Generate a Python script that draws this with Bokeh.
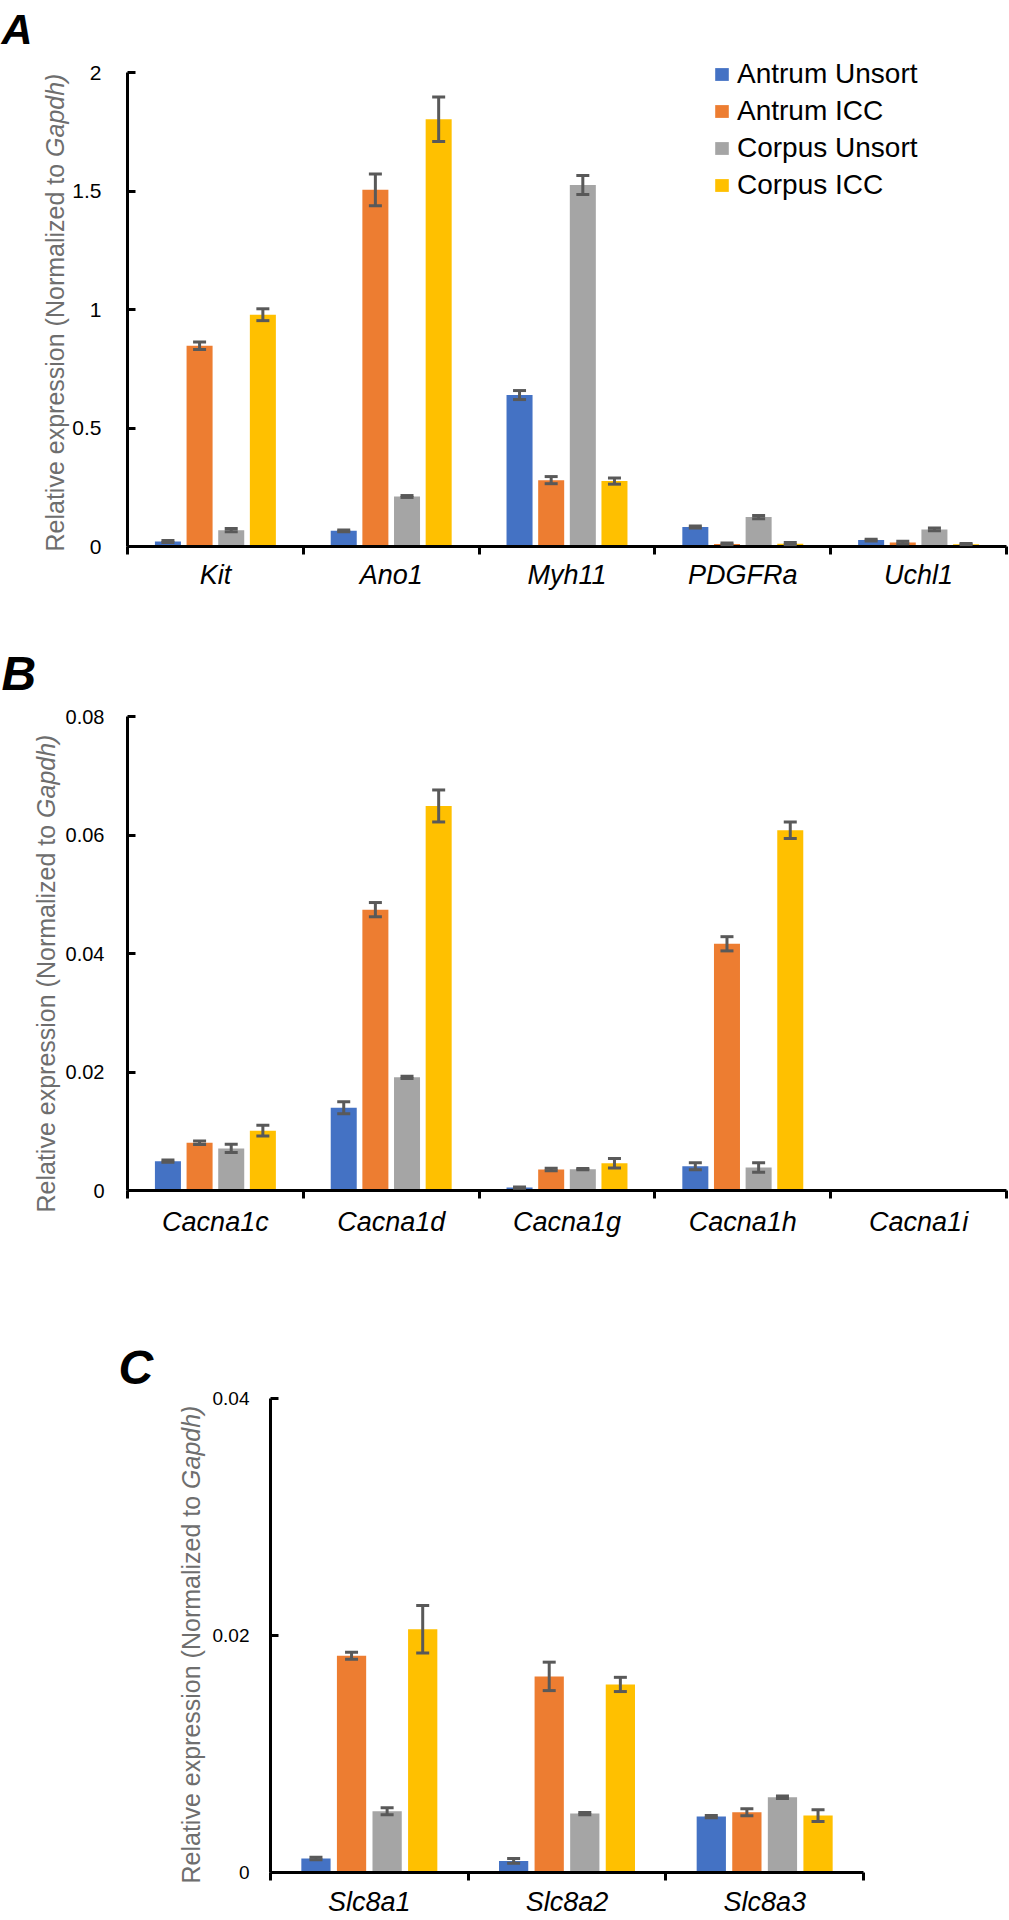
from math import pi
from bokeh.plotting import figure
from bokeh.models import (Range1d, FixedTicker, Whisker, TeeHead, ColumnDataSource,
                          Label, Legend, LegendItem)
from bokeh.layouts import column
from bokeh.embed import file_html
from bokeh.resources import INLINE

# ---------------- data ----------------
series_names = ["Antrum Unsort", "Antrum ICC", "Corpus Unsort", "Corpus ICC"]
series_colors = ["#4472C4", "#ED7D31", "#A5A5A5", "#FFC000"]

# Panel A
genes_a = ["Kit", "Ano1", "Myh11", "PDGFRa", "Uchl1"]
a_antrum_unsort = [0.021, 0.066, 0.639, 0.082, 0.027]
a_antrum_icc = [0.847, 1.505, 0.280, 0.011, 0.017]
a_corpus_unsort = [0.069, 0.211, 1.525, 0.124, 0.072]
a_corpus_icc = [0.978, 1.803, 0.276, 0.012, 0.010]
a_antrum_unsort_err = [0.004, 0.004, 0.019, 0.004, 0.004]
a_antrum_icc_err = [0.016, 0.067, 0.015, 0.004, 0.005]
a_corpus_unsort_err = [0.007, 0.004, 0.040, 0.007, 0.006]
a_corpus_icc_err = [0.025, 0.094, 0.013, 0.005, 0.003]
a_yticks = [0, 0.5, 1, 1.5, 2]
a_ytick_labels = ["0", "0.5", "1", "1.5", "2"]

# Panel B
genes_b = ["Cacna1c", "Cacna1d", "Cacna1g", "Cacna1h", "Cacna1i"]
b_antrum_unsort = [0.00495, 0.01396, 0.0005, 0.0041, 0.0]
b_antrum_icc = [0.00805, 0.0474, 0.00354, 0.04164, 0.0]
b_corpus_unsort = [0.0071, 0.0191, 0.0036, 0.0039, 0.0]
b_corpus_icc = [0.0101, 0.0649, 0.0046, 0.0608, 0.0]
b_antrum_unsort_err = [0.0002, 0.0010, 0.0001, 0.0006, 0.0]
b_antrum_icc_err = [0.0003, 0.0012, 0.0002, 0.0012, 0.0]
b_corpus_unsort_err = [0.0007, 0.0002, 0.0001, 0.0008, 0.0]
b_corpus_icc_err = [0.0009, 0.0027, 0.0008, 0.0014, 0.0]
b_yticks = [0, 0.02, 0.04, 0.06, 0.08]
b_ytick_labels = ["0", "0.02", "0.04", "0.06", "0.08"]

# Panel C
genes_c = ["Slc8a1", "Slc8a2", "Slc8a3"]
c_antrum_unsort = [0.00118, 0.00098, 0.00472]
c_antrum_icc = [0.01829, 0.01655, 0.00508]
c_corpus_unsort = [0.00517, 0.00497, 0.00635]
c_corpus_icc = [0.02053, 0.01587, 0.00480]
c_antrum_unsort_err = [0.0001, 0.0002, 0.0001]
c_antrum_icc_err = [0.0003, 0.0012, 0.0003]
c_corpus_unsort_err = [0.0003, 0.0001, 0.0001]
c_corpus_icc_err = [0.0020, 0.0006, 0.0005]
c_yticks = [0, 0.02, 0.04]
c_ytick_labels = ["0", "0.02", "0.04"]

y_title_main = "Relative expression (Normalized to"
y_title_italic = "Gapdh)"

# ---------------- style ----------------
FONT = "Liberation Sans"
BAR_OFFSETS = [-0.27, -0.09, 0.09, 0.27]
BAR_WIDTH = 0.148
ERR_COLOR = "#595959"
TITLE_COLOR = "#6e6e6e"
PAGE_W = 1009
TITLE_PX = 25
W_MAIN = 15.782  # em advance of "Relative expression (Normalized to " (Arial metrics)


def make_panel(genes, values, errors, y_axis_end, y_view_end, yticks, ytick_labels,
               fig_top, mb_top, frame_h, mb_bottom, mb_left, frame_w,
               ytick_size, ytick_standoff, xlab_standoff,
               letter, letter_size, letter_x, letter_standoff, title_px,
               legend_pos=None):
    n = len(genes)
    mb_right = PAGE_W - mb_left - frame_w
    frame_bottom = fig_top + mb_top + frame_h
    xper = frame_w / n
    yper = frame_h / y_view_end

    def dx(px):
        return (px - mb_left) / xper

    def dy(py):
        return (frame_bottom - py) / yper

    p = figure(width=PAGE_W, height=mb_top + frame_h + mb_bottom,
               frame_width=frame_w, frame_height=frame_h,
               x_range=Range1d(0, n), y_range=Range1d(0, y_view_end),
               output_backend="svg", toolbar_location=None,
               min_border_left=mb_left, min_border_right=mb_right,
               min_border_top=mb_top, min_border_bottom=mb_bottom)
    if "frame_align" in p.properties():
        p.frame_align = False
    p.outline_line_color = None
    p.xgrid.visible = False
    p.ygrid.visible = False
    p.background_fill_color = "white"
    p.border_fill_color = "white"

    renderers = []
    for s, (vals, errs) in enumerate(zip(values, errors)):
        xs = [i + 0.5 + BAR_OFFSETS[s] for i in range(n)]
        src = ColumnDataSource(dict(x=xs, top=vals))
        r = p.vbar(x="x", top="top", bottom=0, width=BAR_WIDTH, source=src,
                   fill_color=series_colors[s], line_color=None)
        renderers.append(r)
        wx = [x for x, e in zip(xs, errs) if e > 0]
        wu = [v + e for v, e in zip(vals, errs) if e > 0]
        wl = [v - e for v, e in zip(vals, errs) if e > 0]
        wsrc = ColumnDataSource(dict(base=wx, upper=wu, lower=wl))
        w = Whisker(source=wsrc, base="base", upper="upper", lower="lower",
                    dimension="height", line_color=ERR_COLOR, line_width=3,
                    upper_head=TeeHead(size=13, line_color=ERR_COLOR, line_width=3),
                    lower_head=TeeHead(size=13, line_color=ERR_COLOR, line_width=3),
                    level="annotation")
        p.add_layout(w)

    # x axis: labels at category centres, ticks at category boundaries
    xa = p.xaxis[0]
    centers = [i + 0.5 for i in range(n)]
    xa.ticker = FixedTicker(ticks=centers, minor_ticks=list(range(n + 1)))
    xa.major_label_overrides = {c: g for c, g in zip(centers, genes)}
    xa.axis_line_width = 3
    xa.axis_line_color = "black"
    xa.major_tick_line_color = None
    xa.major_tick_in = 0
    xa.major_tick_out = 0
    xa.minor_tick_line_color = "black"
    xa.minor_tick_line_width = 3
    xa.minor_tick_in = 0
    xa.minor_tick_out = 8
    xa.major_label_text_font = FONT
    xa.major_label_text_font_style = "italic"
    xa.major_label_text_font_size = "27px"
    xa.major_label_text_color = "black"
    xa.major_label_standoff = xlab_standoff

    ya = p.yaxis[0]
    ya.ticker = FixedTicker(ticks=yticks, minor_ticks=[])
    ya.major_label_overrides = {t: l for t, l in zip(yticks, ytick_labels)}
    ya.bounds = (0, y_axis_end)
    ya.axis_line_width = 3
    ya.axis_line_color = "black"
    ya.major_tick_line_color = "black"
    ya.major_tick_line_width = 3
    ya.major_tick_in = 8
    ya.major_tick_out = 0
    ya.minor_tick_line_color = None
    ya.major_label_text_font = FONT
    ya.major_label_text_font_size = f"{ytick_size}px"
    ya.major_label_text_color = "black"
    ya.major_label_standoff = ytick_standoff

    # rotated y axis title (roman + italic part), placed in the left border
    tx, ty0 = title_px
    for txt, py, style in [(y_title_main, ty0, "normal"),
                           (y_title_italic, ty0 - W_MAIN * TITLE_PX, "italic")]:
        p.add_layout(Label(x=dx(tx), y=dy(py), text=txt, angle=pi / 2, text_font=FONT,
                           text_font_size=f"{TITLE_PX}px", text_font_style=style,
                           text_color=TITLE_COLOR, text_align="left",
                           text_baseline="alphabetic"), "left")

    # panel letter as plot title
    p.title.text = letter
    p.title.align = "left"
    p.title.offset = letter_x - mb_left
    p.title.standoff = letter_standoff
    p.title.vertical_align = "bottom"
    p.title.text_font = FONT
    p.title.text_font_size = f"{letter_size}px"
    p.title.text_font_style = "bold italic"
    p.title.text_color = "black"

    if legend_pos is not None:
        items = [LegendItem(label=nm, renderers=[r]) for nm, r in zip(series_names, renderers)]
        lg = Legend(items=items, location=legend_pos, orientation="vertical",
                    label_text_font=FONT, label_text_font_size="28px",
                    label_text_color="black", glyph_width=17, glyph_height=16,
                    label_standoff=7, spacing=4, padding=0, margin=0, label_height=33,
                    border_line_color=None, background_fill_alpha=0)
        p.add_layout(lg)
    return p


# Panel A: figure 0..618, frame 52..546 (y axis up to 2 at 72), x 127..1006
pA = make_panel(genes_a,
                [a_antrum_unsort, a_antrum_icc, a_corpus_unsort, a_corpus_icc],
                [a_antrum_unsort_err, a_antrum_icc_err, a_corpus_unsort_err, a_corpus_icc_err],
                2, 2 * 494 / 474, a_yticks, a_ytick_labels,
                fig_top=0, mb_top=52, frame_h=494, mb_bottom=72, mb_left=127, frame_w=879,
                ytick_size=21, ytick_standoff=26, xlab_standoff=5,
                letter="A", letter_size=43, letter_x=1, letter_standoff=0,
                title_px=(54, 551), legend_pos=(586, 344.5))

# Panel B: figure 618..1270, frame 716..1190
pB = make_panel(genes_b,
                [b_antrum_unsort, b_antrum_icc, b_corpus_unsort, b_corpus_icc],
                [b_antrum_unsort_err, b_antrum_icc_err, b_corpus_unsort_err, b_corpus_icc_err],
                0.08, 0.08, b_yticks, b_ytick_labels,
                fig_top=618, mb_top=98, frame_h=474, mb_bottom=80, mb_left=127, frame_w=879,
                ytick_size=20, ytick_standoff=23, xlab_standoff=8,
                letter="B", letter_size=48, letter_x=1, letter_standoff=34,
                title_px=(45, 1212))

# Panel C: figure 1270..1920, frame 1398..1872, x 270..863
pC = make_panel(genes_c,
                [c_antrum_unsort, c_antrum_icc, c_corpus_unsort, c_corpus_icc],
                [c_antrum_unsort_err, c_antrum_icc_err, c_corpus_unsort_err, c_corpus_icc_err],
                0.04, 0.04, c_yticks, c_ytick_labels,
                fig_top=1270, mb_top=128, frame_h=474, mb_bottom=48, mb_left=270, frame_w=593,
                ytick_size=19, ytick_standoff=21, xlab_standoff=6,
                letter="C", letter_size=48, letter_x=118, letter_standoff=10,
                title_px=(190, 1883))

layout = column(pA, pB, pC, spacing=0)
open("out.html", "w").write(file_html(layout, INLINE))
